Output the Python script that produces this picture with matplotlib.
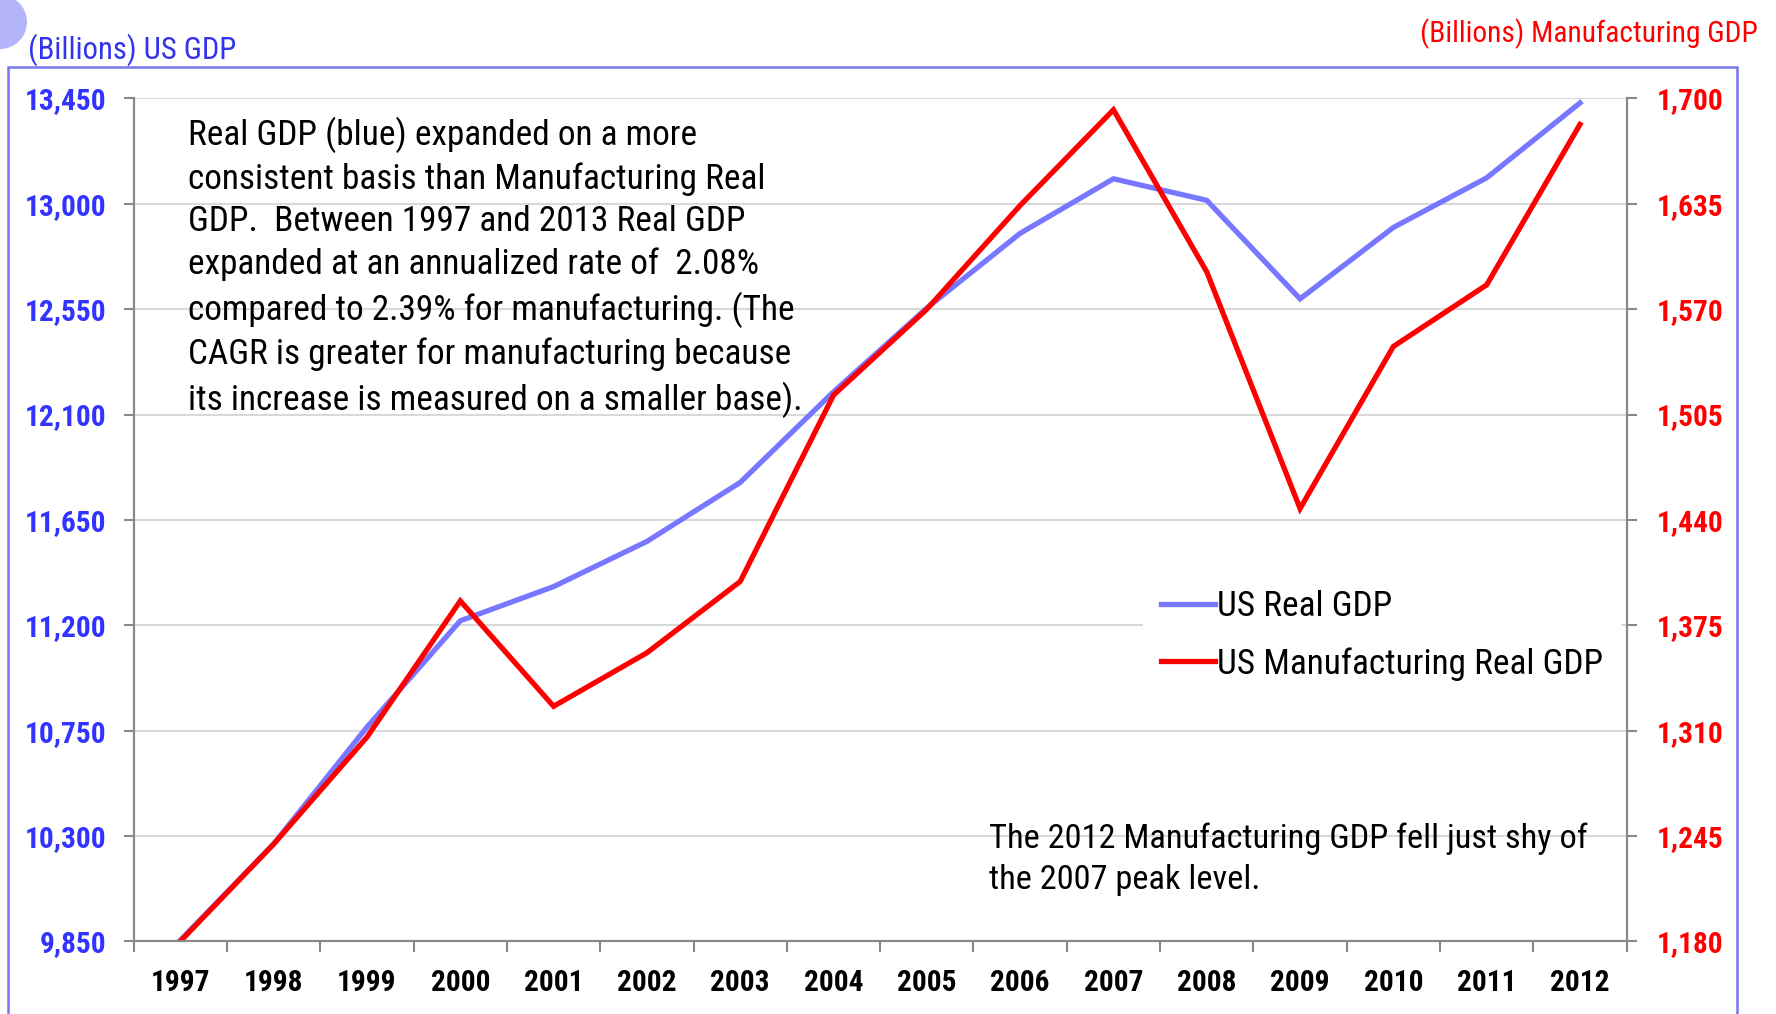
# US Real GDP vs US Manufacturing Real GDP, 1997-2012

import matplotlib
matplotlib.use('Agg')
import matplotlib.pyplot as plt
from matplotlib import patches, font_manager
from matplotlib.lines import Line2D

# prefer a narrow face if one is installed, else plain Liberation Sans
names = {f.name for f in font_manager.fontManager.ttflist}
narrow = [n for n in ('Liberation Sans Narrow', 'Roboto Condensed', 'Open Sans Condensed')
          if n in names]
if narrow:
    plt.rcParams['font.family'] = [narrow[0], 'DejaVu Sans']
    k = 1.18
else:
    plt.rcParams['font.family'] = ['Liberation Sans', 'DejaVu Sans']
    k = 1.0

# data (billions)
years = ['1997', '1998', '1999', '2000', '2001', '2002', '2003', '2004',
         '2005', '2006', '2007', '2008', '2009', '2010', '2011', '2012']
us_gdp = [9855, 10266, 10765, 11219, 11365, 11558, 11810, 12197,
          12555, 12874, 13107, 13015, 12594, 12899, 13111, 13431]
mfg_gdp = [1180, 1240, 1306, 1390, 1325, 1358, 1402, 1517,
           1570, 1634, 1693, 1593, 1447, 1547, 1585, 1684]

left_ticks = [9850, 10300, 10750, 11200, 11650, 12100, 12550, 13000, 13450]
right_ticks = [1180, 1245, 1310, 1375, 1440, 1505, 1570, 1635, 1700]

note_top = ("Real GDP (blue) expanded on a more\n"
            "consistent basis than Manufacturing Real\n"
            "GDP.  Between 1997 and 2013 Real GDP\n"
            "expanded at an annualized rate of  2.08%\n"
            "compared to 2.39% for manufacturing. (The\n"
            "CAGR is greater for manufacturing because\n"
            "its increase is measured on a smaller base).")
note_bottom = ("The 2012 Manufacturing GDP fell just shy of\n"
               "the 2007 peak level.")

blue = '#7777ff'
red = '#ff0000'
W, H = 1776, 1014
big = 21.5 * k
small = 17.9 * k

fig = plt.figure(figsize=(17.76, 10.14), dpi=100)
ax = fig.add_axes([0.0753, 0.0717, 0.9159 - 0.0753, 0.9029 - 0.0717])
ax2 = ax.twinx()

x = list(range(len(years)))
ax.plot(x, us_gdp, color=blue, lw=3.8, solid_joinstyle='miter')
ax2.plot(x, mfg_gdp, color=red, lw=3.8, solid_joinstyle='miter')

ax.set_xlim(-0.5, len(years) - 0.5)
ax.set_ylim(left_ticks[0], left_ticks[-1])
ax2.set_ylim(right_ticks[0], right_ticks[-1])

ax.set_yticks(left_ticks)
ax.set_yticklabels([f'{v:,}' for v in left_ticks])
ax2.set_yticks(right_ticks)
ax2.set_yticklabels([f'{v:,}' for v in right_ticks])
ax.set_xticks(x)
ax.set_xticklabels(years)
ax.set_xticks([i - 0.5 for i in range(len(years) + 1)], minor=True)

ax.grid(axis='y', color='#d9d9d9', lw=1.5)
ax.set_axisbelow(True)

for a in (ax, ax2):
    a.spines['top'].set_visible(False)
    for s in ('left', 'right', 'bottom'):
        a.spines[s].set_color('#888888')
        a.spines[s].set_linewidth(1.5)

ax.tick_params(axis='x', which='major', length=0, pad=20, labelsize=small)
ax.tick_params(axis='x', which='minor', length=8, width=1.5, color='#888888')
ax.tick_params(axis='y', length=7, width=1.5, color='#888888', pad=13,
               labelsize=small, labelcolor='#3333ff')
ax2.tick_params(axis='y', length=7, width=1.5, color='#888888', pad=15,
                labelsize=small, labelcolor=red)
for lab in ax.get_xticklabels() + ax.get_yticklabels() + ax2.get_yticklabels():
    lab.set_fontweight('bold')

handles = [Line2D([], [], color=blue, lw=3.8), Line2D([], [], color=red, lw=3.8)]
leg = ax2.legend(handles, ['US Real GDP', 'US Manufacturing Real GDP'],
                 loc='center left', bbox_to_anchor=(0.676, 0.363), fontsize=big,
                 frameon=True, framealpha=1, edgecolor='none', fancybox=False,
                 handlelength=1.55, handletextpad=0.05, labelspacing=0.68,
                 borderpad=0.5, borderaxespad=0)
leg.set_zorder(2.4)  # keep the right spine and ticks on top of the white box

ax2.text(0.0364, 0.80, note_top, transform=ax.transAxes, fontsize=big,
         va='center', ha='left', linespacing=1.36)
ax2.text(0.573, 0.097, note_bottom, transform=ax.transAxes, fontsize=21 * k,
         va='center', ha='left', linespacing=1.36)

# axis captions above the plot
fig.text(28 / W, 1 - 50 / H, '(Billions) US GDP', color='#3333ee',
         fontsize=18.7 * k, va='center', ha='left')
fig.text(1758 / W, 1 - 34 / H, '(Billions) Manufacturing GDP', color=red,
         fontsize=18 * k, va='center', ha='right')

# slide frame and corner bullet
fig.add_artist(patches.Rectangle((8 / W, -0.05), (1737 - 8) / W, 1 - 67 / H + 0.05,
                                 transform=fig.transFigure, fill=False,
                                 edgecolor='#7777ee', lw=1.8))
fig.add_artist(patches.Ellipse((0, 1 - 22 / H), 54 / W, 54 / H,
                               transform=fig.transFigure, color='#b4b4f8', lw=0))

fig.savefig('out.png', dpi=100)
